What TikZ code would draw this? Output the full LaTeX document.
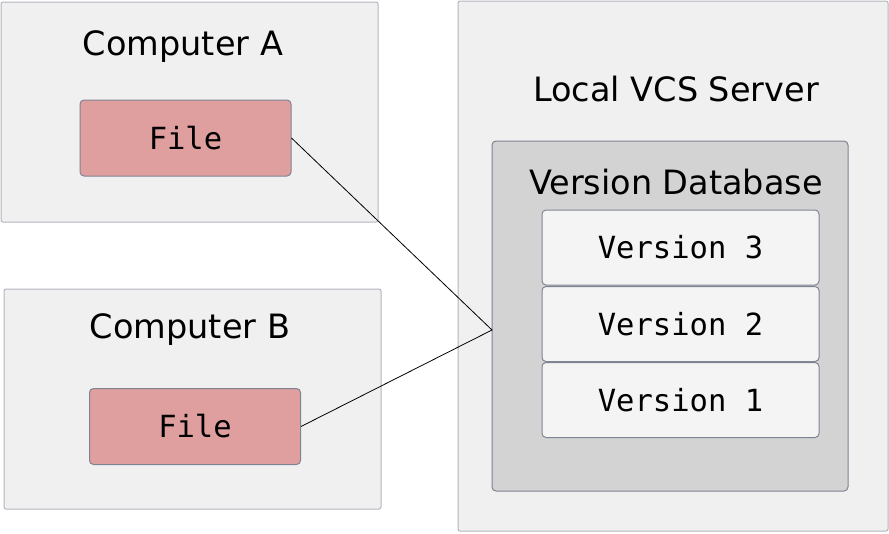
\documentclass[tikz,border=0pt]{standalone}
\usepackage{fontspec}
\setmainfont{DejaVu Sans}
\setmonofont{DejaVu Sans Mono}
\definecolor{boxgray}{HTML}{F0F0F0}
\definecolor{dbgray}{HTML}{D3D3D3}
\definecolor{vergray}{HTML}{F4F4F4}
\definecolor{filered}{HTML}{E09F9F}
\definecolor{edgegray}{HTML}{7F8493}
\tikzset{
  machine/.style={draw=edgegray!60, fill=boxgray, line width=1pt, rounded corners=2pt, inner sep=0pt},
  database/.style={draw=edgegray, fill=dbgray, line width=1pt, rounded corners=4pt, inner sep=0pt},
  version/.style={draw=edgegray, fill=vergray, line width=1pt, rounded corners=4pt, inner sep=0pt,
    minimum width=277pt, minimum height=75pt, font=\fontsize{30.5}{34}\ttfamily},
  filebox/.style={draw=edgegray, fill=filered, line width=1pt, rounded corners=4pt, inner sep=0pt,
    minimum width=211pt, minimum height=76pt, font=\fontsize{30.5}{34}\ttfamily},
  title/.style={font=\fontsize{33.5}{38}\selectfont, inner sep=0pt}
}
\begin{document}
\begin{tikzpicture}[x=1pt,y=-1pt]
  \useasboundingbox (0,0) rectangle (889,533);

  \begin{scope}[every node/.style={machine}]
    \node (compA)  at (189.5,112) [minimum width=377pt, minimum height=220pt] {};
    \node (compB)  at (192.5,399) [minimum width=377pt, minimum height=220pt] {};
    \node (server) at (673,266)   [minimum width=430pt, minimum height=530pt] {};
  \end{scope}

  \node[database] (db) at (670,316) [minimum width=356pt, minimum height=350pt] {};

  \begin{scope}[every node/.style={title}]
    \node (titleA)  at (183,47)  {Computer A};
    \node (titleB)  at (190,330) {Computer B};
    \node (titleS)  at (676,89)  {Local VCS Server};
    \node (titleDB) at (676,182) {Version Database};
  \end{scope}

  \node[filebox] (fileA) at (185.5,138) {File};
  \node[filebox] (fileB) at (195,426.5) {File};

  \node[version] (v3) at (680.5,247.5) {Version 3};
  \node[version] (v2) at (680.5,324)   {Version 2};
  \node[version] (v1) at (680.5,400)   {Version 1};

  \coordinate (dbin) at (492,330);
  \draw[line width=0.8pt] (fileA.east) -- (dbin) -- (fileB.east);

\end{tikzpicture}
\end{document}
